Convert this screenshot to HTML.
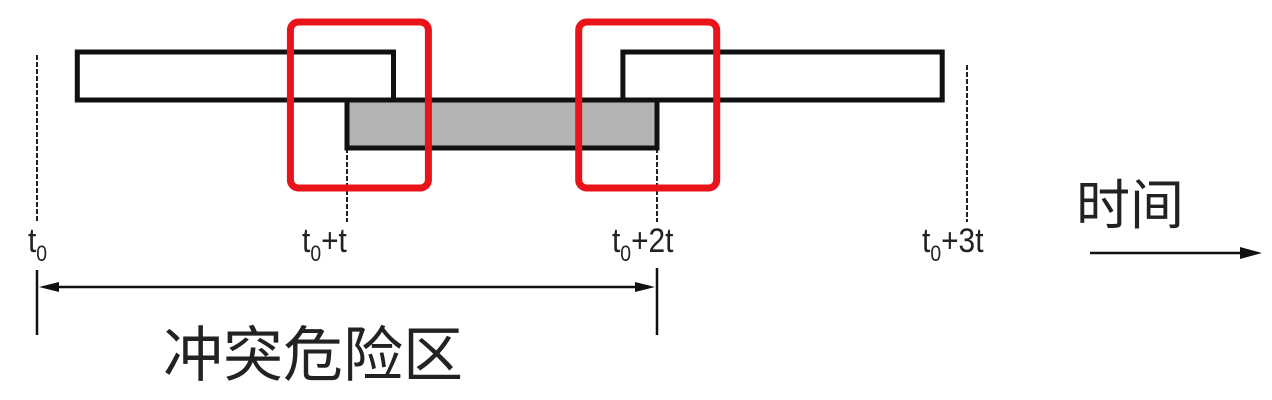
<!DOCTYPE html>
<html><head><meta charset="utf-8"><style>
html,body{margin:0;padding:0;background:#fff;width:1272px;height:400px;overflow:hidden}
svg{display:block}
text{font-family:"Liberation Sans","Noto Sans CJK SC",sans-serif;fill:#222}
</style></head><body>
<svg id="c" width="1272" height="400"></svg>
<script>
const frameNames=["frame-1","frame-2","frame-3"];
const frameStart=[0.13,1.0,1.89];
const frameEnd=[1.15,2.0,2.92];
const frameFill=["#fff","#b3b3b3","#fff"];
const frameRow=[0,1,0];
const tickValues=[0,1,2,3];
const tickSubs=["","+t","+2t","+3t"];
const zoneCenters=[1.04,1.97];
const ns="http://www.w3.org/2000/svg";
const svg=document.getElementById('c');
const X=u=>37+u*310;
const rowY=r=>52+r*48;
function mk(tag,attrs,parent){const e=document.createElementNS(ns,tag);for(const k in attrs)e.setAttribute(k,attrs[k]);(parent||svg).appendChild(e);return e;}
const dashTop=[55,148,148,65];
tickValues.forEach((v,i)=>{
  const l=mk('line',{x1:X(v),x2:X(v),y1:dashTop[i],y2:222,stroke:'#222','stroke-width':2,'stroke-dasharray':'5 2'});
  
  
  const lx=X(v)-(i===0?9:45);
  const t=mk('text',{x:lx,y:252,'font-size':34,transform:`translate(${lx},0) scale(0.88,1) translate(${-lx},0)`});
  
  
  t.innerHTML='t<tspan font-size="22" dy="9">0</tspan><tspan dy="-9">'+tickSubs[i]+'</tspan>';
});
[1,0,2].forEach(i=>{
  const r=mk('rect',{x:X(frameStart[i]),y:rowY(frameRow[i]),width:X(frameEnd[i])-X(frameStart[i]),height:48,fill:frameFill[i],stroke:'#111','stroke-width':5});
  
  
});
zoneCenters.forEach((c,i)=>{
  const r=mk('rect',{x:X(c)-69,y:22,width:138,height:166,rx:8,fill:'none',stroke:'#e8141a','stroke-width':7});
  
  
});
const g=mk('g',{stroke:'#111','stroke-width':2.5});


mk('line',{x1:X(0),x2:X(0),y1:270,y2:335},g);
mk('line',{x1:X(2),x2:X(2),y1:268,y2:335},g);
mk('line',{x1:X(0)+14,x2:X(2)-14,y1:287,y2:287},g);
mk('polygon',{points:`${X(0)+2},287 ${X(0)+22},282 ${X(0)+22},292`,fill:'#111','stroke-width':0},g);
mk('polygon',{points:`${X(2)-2},287 ${X(2)-22},282 ${X(2)-22},292`,fill:'#111','stroke-width':0},g);
const zl=mk('text',{x:163,y:376,'font-size':60});


zl.textContent='冲突危险区';
const tl=mk('text',{x:1076,y:224,'font-size':54});


tl.textContent='时间';
const ta=mk('g',{});


mk('line',{x1:1090,x2:1245,y1:253,y2:253,stroke:'#111','stroke-width':2.5},ta);
mk('polygon',{points:'1262,253 1240,247 1240,259',fill:'#111'},ta);
</script>
</body></html>
